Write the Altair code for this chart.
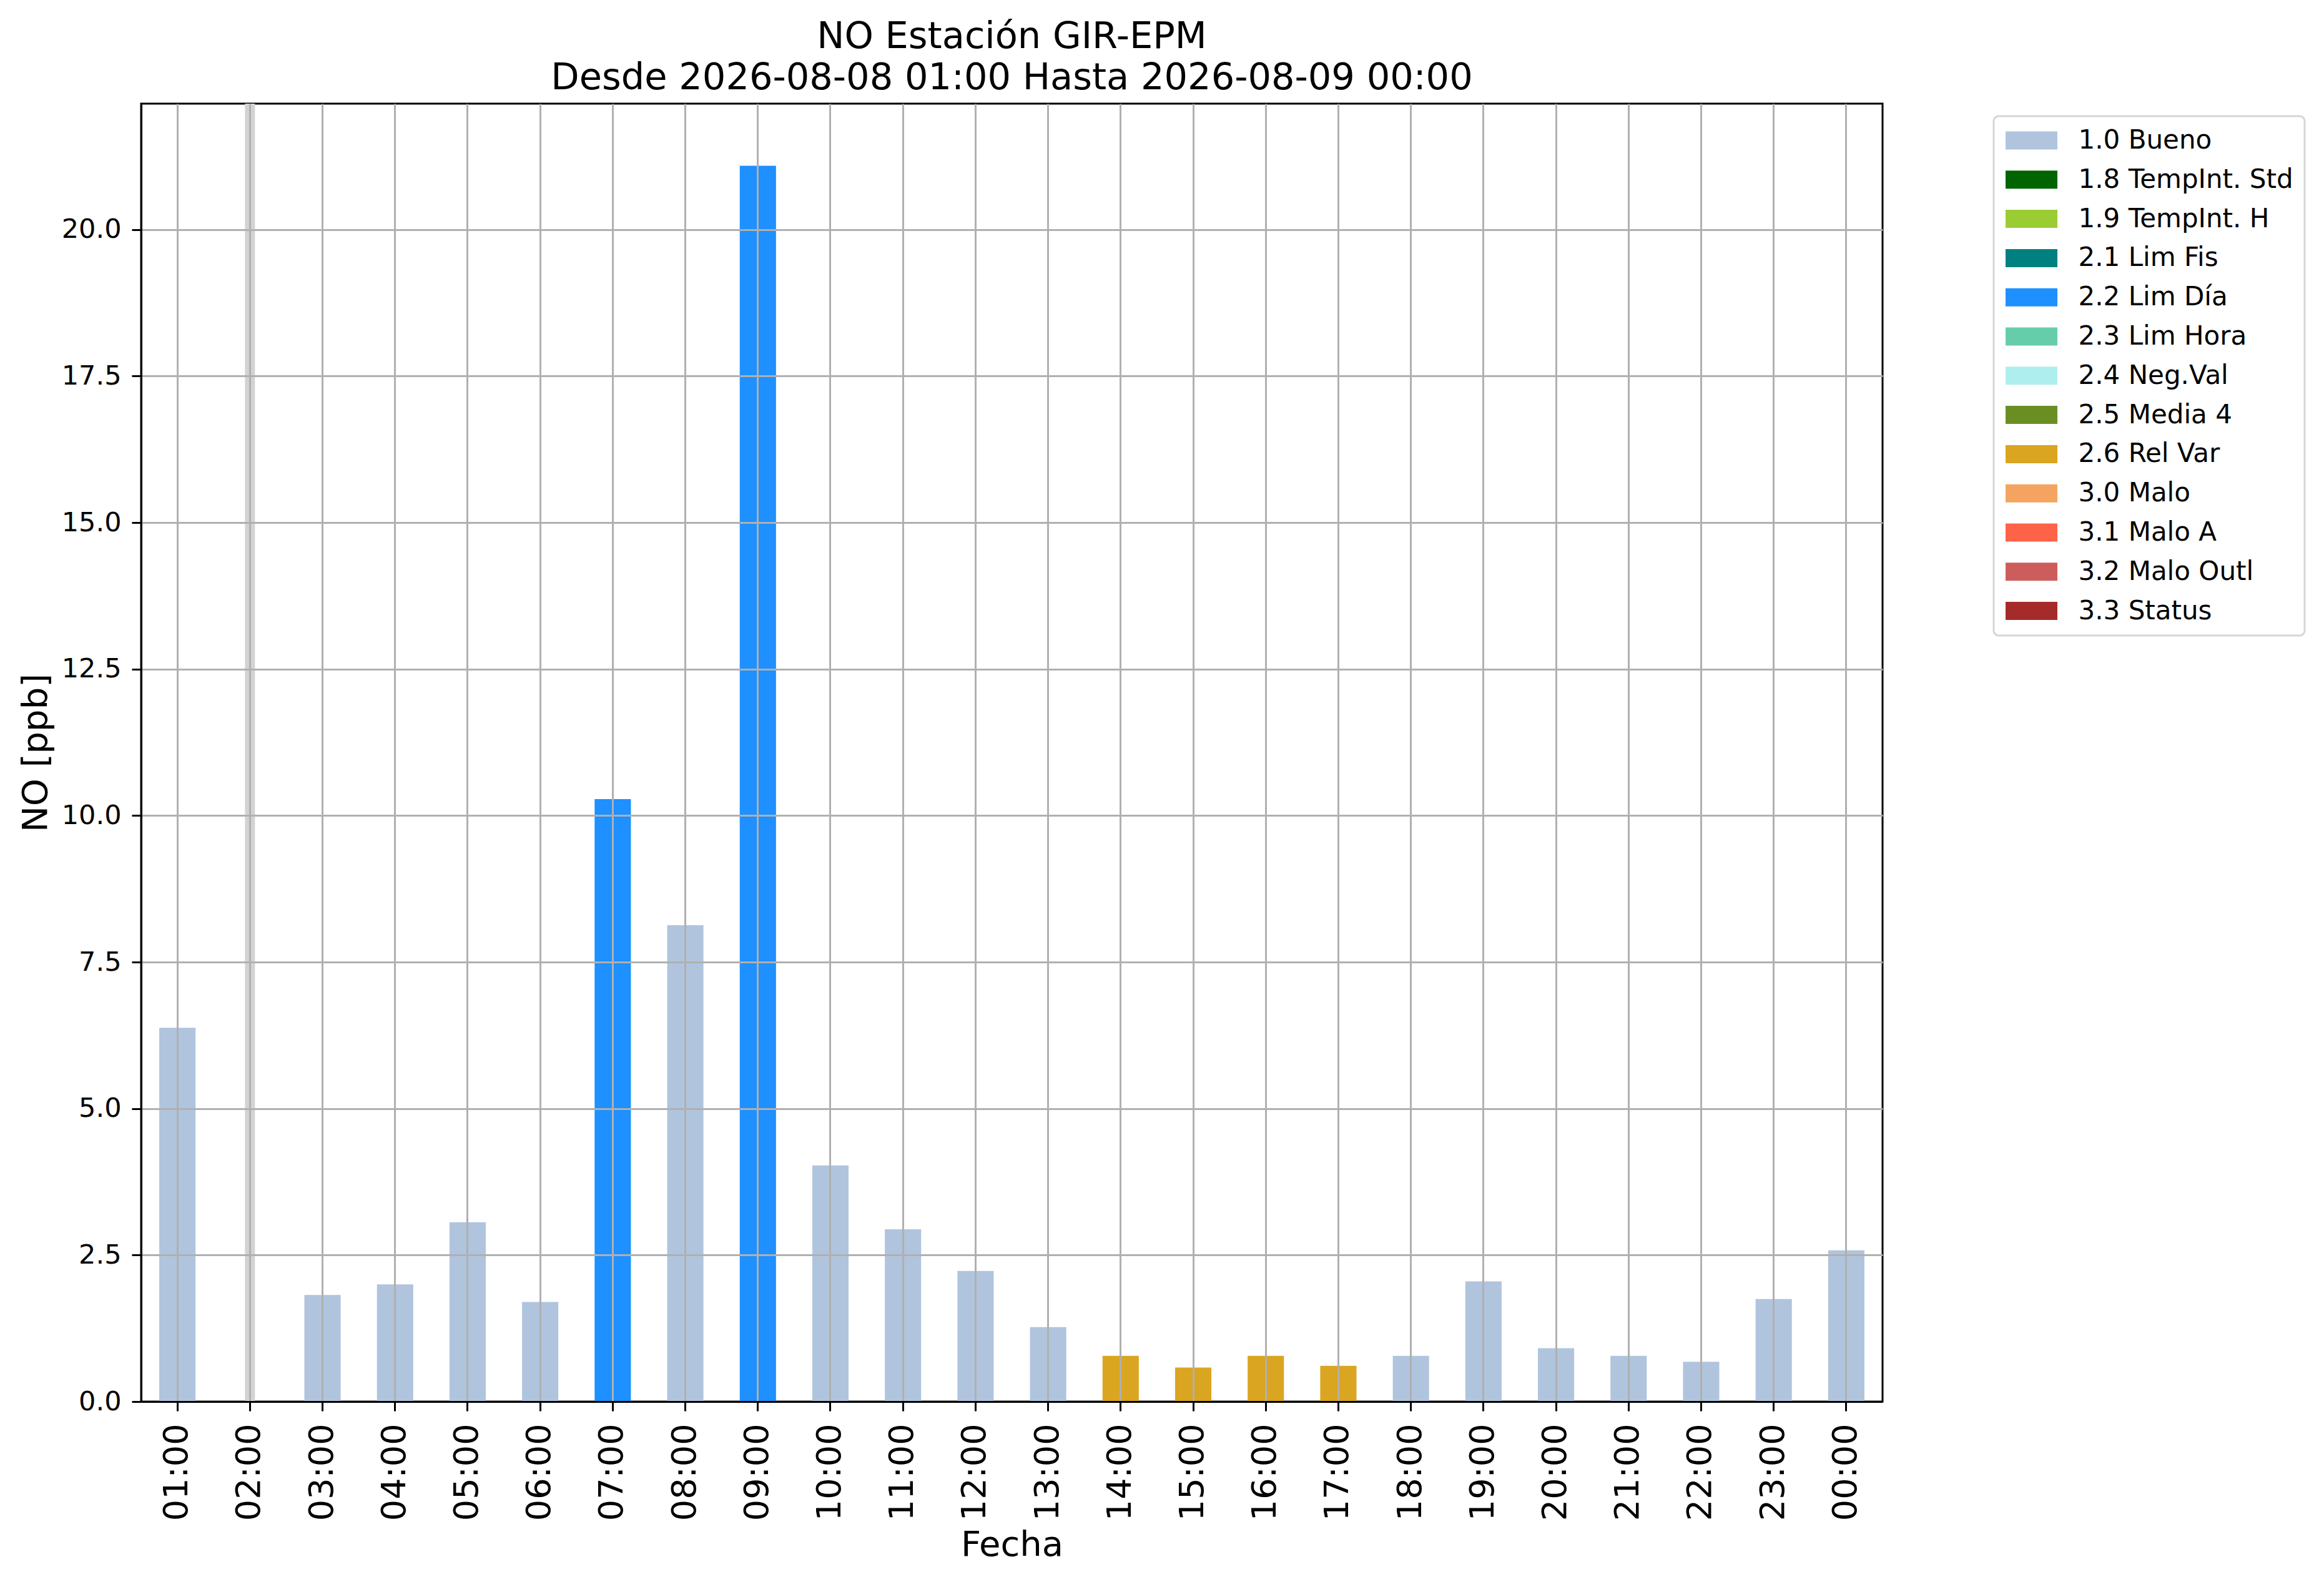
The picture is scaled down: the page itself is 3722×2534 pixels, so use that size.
import altair as alt
import pandas as pd

hours = ["01:00", "02:00", "03:00", "04:00", "05:00", "06:00", "07:00", "08:00",
         "09:00", "10:00", "11:00", "12:00", "13:00", "14:00", "15:00", "16:00",
         "17:00", "18:00", "19:00", "20:00", "21:00", "22:00", "23:00", "00:00"]
values = [6.38, None, 1.82, 2.00, 3.06, 1.70, 10.28, 8.13, 21.09, 4.03, 2.94, 2.23,
          1.27, 0.78, 0.58, 0.78, 0.61, 0.78, 2.05, 0.91, 0.78, 0.68, 1.75, 2.58]
flags = ["1.0 Bueno", None, "1.0 Bueno", "1.0 Bueno", "1.0 Bueno", "1.0 Bueno",
         "2.2 Lim Día", "1.0 Bueno", "2.2 Lim Día", "1.0 Bueno", "1.0 Bueno", "1.0 Bueno",
         "1.0 Bueno", "2.6 Rel Var", "2.6 Rel Var", "2.6 Rel Var", "2.6 Rel Var", "1.0 Bueno",
         "1.0 Bueno", "1.0 Bueno", "1.0 Bueno", "1.0 Bueno", "1.0 Bueno", "1.0 Bueno"]

flag_labels = ["1.0 Bueno", "1.8 TempInt. Std", "1.9 TempInt. H", "2.1 Lim Fis",
               "2.2 Lim Día", "2.3 Lim Hora", "2.4 Neg.Val", "2.5 Media 4",
               "2.6 Rel Var", "3.0 Malo", "3.1 Malo A", "3.2 Malo Outl", "3.3 Status"]
flag_colors = ["#b0c4de", "#006400", "#9acd32", "#008080", "#1e90ff", "#66cdaa",
               "#afeeee", "#6b8e23", "#daa520", "#f4a460", "#ff6347", "#cd5c5c", "#a52a2a"]

y_ticks = [0, 2.5, 5, 7.5, 10, 12.5, 15, 17.5, 20]
y_max = 22.15

title_lines = ["NO Estación GIR-EPM", "Desde 2026-08-08 01:00 Hasta 2026-08-09 00:00"]

df = pd.DataFrame({"hour": hours, "value": values, "flag": flags})

W, H = 2789, 2079
FONT = "DejaVu Sans"

x_enc = alt.X(
    "hour:N",
    sort=hours,
    scale=alt.Scale(domain=hours, paddingInner=0.5, paddingOuter=0.25),
    axis=alt.Axis(
        title="Fecha", labelAngle=-90, labelFontSize=54, labelFont=FONT, labelColor="black",
        tickSize=15, tickWidth=3, tickColor="black", domainColor="black", domainWidth=3,
        labelPadding=20, titleFontSize=56, titleFont=FONT, titleFontWeight="normal",
        titleColor="black", titlePadding=12, grid=True, gridColor="#b0b0b0", gridWidth=3,
        bandPosition=0.5, zindex=1,
    ),
)

base = alt.Chart(df)

bars = base.mark_bar().encode(
    x=x_enc,
    y=alt.Y(
        "value:Q",
        scale=alt.Scale(domain=[0, y_max], nice=False, zero=True),
        axis=alt.Axis(
            title="NO [ppb]", values=y_ticks, format=".1f", labelFontSize=43, labelFont=FONT,
            labelColor="black", tickSize=15, tickWidth=3, tickColor="black",
            domainColor="black", domainWidth=3, labelPadding=17, titleFontSize=56,
            titleFont=FONT, titleFontWeight="normal", titleColor="black", titlePadding=12,
            grid=True, gridColor="#b0b0b0", gridWidth=3, zindex=1,
        ),
    ),
    color=alt.Color(
        "flag:N",
        scale=alt.Scale(domain=flag_labels, range=flag_colors),
        legend=alt.Legend(
            title=None, orient="none", legendX=2967, legendY=20,
            symbolType="M-2.075,-0.725L2.075,-0.725L2.075,0.725L-2.075,0.725Z",
            symbolSize=1600, symbolStrokeWidth=0, symbolOffset=21.5, symbolOpacity=1,
            labelOffset=54, labelFontSize=42, labelFont=FONT, labelColor="black",
            labelLimit=1000, rowPadding=20.8, padding=18, strokeColor="#d6d6d6",
            cornerRadius=8, fillColor="white",
        ),
    ),
).transform_filter("isValid(datum.value)")

missing = base.mark_rule(color="#d3d3d3", strokeWidth=16).encode(
    x=alt.X("hour:N", sort=hours),
    y=alt.value(0),
    y2=alt.value(H),
).transform_filter("!isValid(datum.value)")

chart = alt.layer(missing, bars).properties(
    width=W,
    height=H,
    background="white",
    autosize=alt.AutoSizeParams(type="none"),
    padding={"left": 218, "top": 158, "right": 690, "bottom": 270},
    title=alt.TitleParams(
        text=title_lines, fontSize=59, font=FONT, fontWeight="normal", color="black",
        anchor="middle", baseline="bottom", offset=12, dy=68, lineHeight=66,
    ),
).configure_view(
    stroke="black", strokeWidth=3
).configure_legend(
    strokeWidth=3
)

chart.save("out.html", embed_options={"renderer": "svg", "actions": False})
